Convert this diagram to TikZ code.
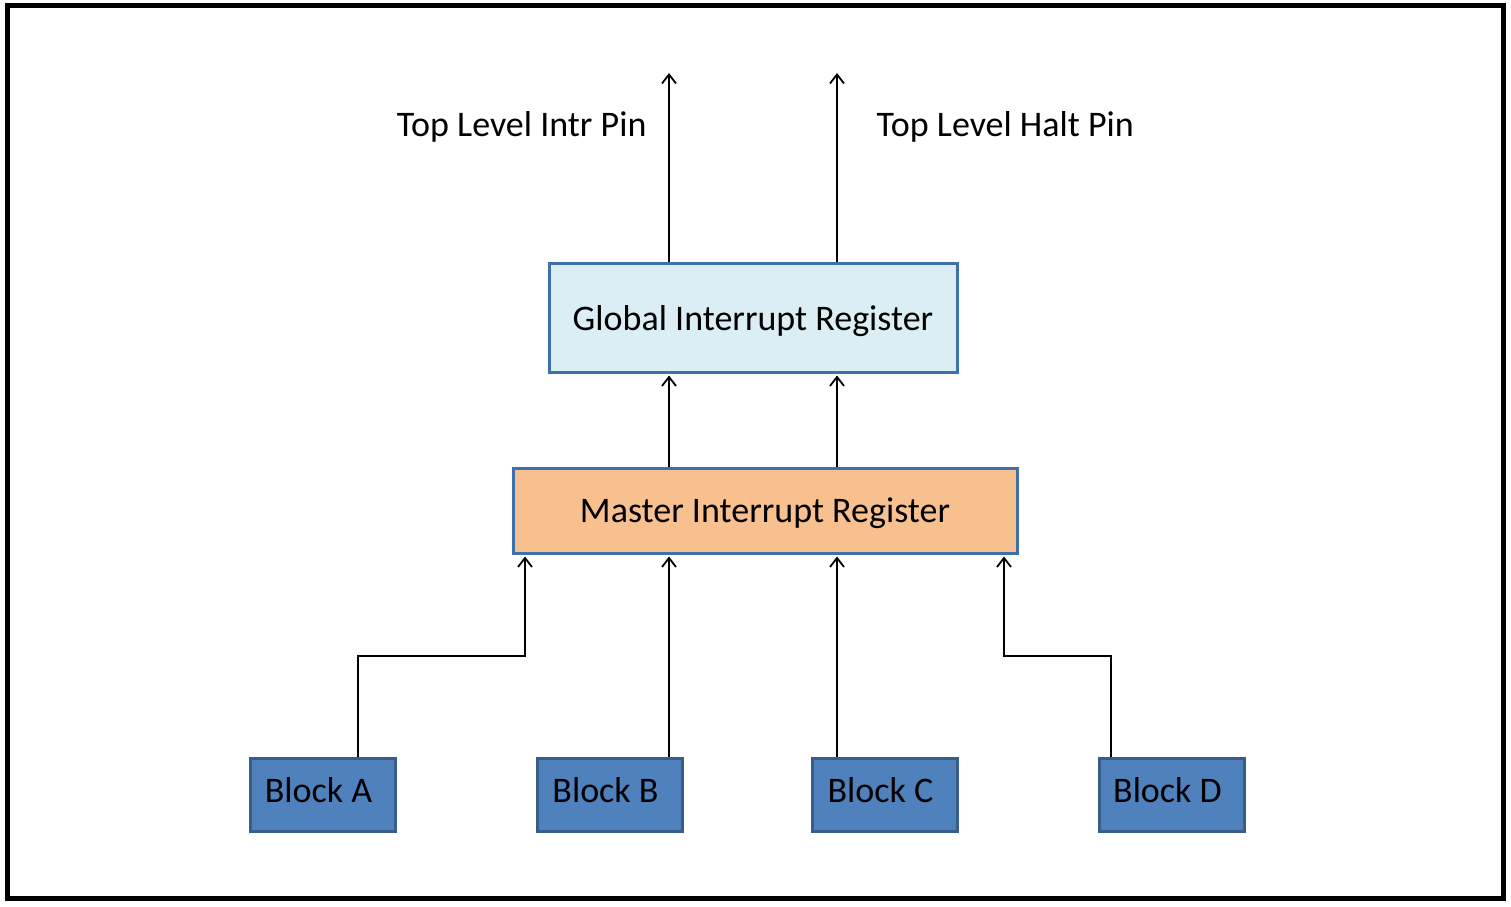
\documentclass[tikz,border=0pt]{standalone}
\usepackage{fontspec}
\setmainfont{Carlito}
\usetikzlibrary{arrows.meta, positioning, calc}

\definecolor{globfill}{HTML}{DBEEF4}
\definecolor{mastfill}{HTML}{F9C08F}
\definecolor{boxline}{HTML}{3E70AA}
\definecolor{blkfill}{HTML}{4F81BD}
\definecolor{blkline}{HTML}{385D8A}

\begin{document}
\begin{tikzpicture}[x=1pt, y=-1pt,
    every node/.style = {font=\fontsize{36}{40}\selectfont, text=black},
    regbox/.style = {draw=boxline, line width=3pt, inner sep=0pt, text depth=0pt},
    blkbox/.style = {draw=blkline, fill=blkfill, line width=3pt,
      minimum width=145pt, minimum height=73pt, inner sep=0pt,
      text depth=10pt, execute at end node={\hspace*{8pt}}},
    pinlbl/.style = {text depth=0pt},
    wire/.style   = {line width=2pt, -{Straight Barb[length=9pt,width=14pt,line width=1.8pt]}},
  ]
  \useasboundingbox (0,0) rectangle (1511,906);
  % frame
  \draw[line width=5pt] (7,5.5) rectangle (1503,898);

  % registers
  \node[regbox, fill=globfill, minimum width=408pt, minimum height=109pt]
    (glob) at (753,317.5) {Global Interrupt Register};
  \node[regbox, fill=mastfill, minimum width=504pt, minimum height=85pt]
    (mast) at (765,510.5) {Master Interrupt Register};

  % blocks
  \node[blkbox] (blkA) at (322.5,794.5) {Block A};
  \node[blkbox] (blkB) at (609.5,794.5) {Block B};
  \node[blkbox] (blkC) at (884.5,794.5) {Block C};
  \node[blkbox] (blkD) at (1171.5,794.5) {Block D};

  % top level pins
  \coordinate (intr) at (669,73);
  \coordinate (halt) at (837,73);
  \node[pinlbl, anchor=east] (intrlbl) at (650,124) {Top Level Intr Pin};
  \node[pinlbl, anchor=west] (haltlbl) at (873,124) {Top Level Halt Pin};

  \draw[wire] (glob.north -| intr) -- (intr);
  \draw[wire] (glob.north -| halt) -- (halt);
  \draw[wire] (mast.north -| intr) -- ([yshift=-2pt]glob.south -| intr);
  \draw[wire] (mast.north -| halt) -- ([yshift=-2pt]glob.south -| halt);

  % block inputs
  \draw[wire] ([xshift=35.5pt]blkA.north) |- (525,656) -- ([yshift=-2pt]mast.south -| 525,0);
  \draw[wire] (blkB.north -| intr) -- ([yshift=-2pt]mast.south -| intr);
  \draw[wire] (blkC.north -| halt) -- ([yshift=-2pt]mast.south -| halt);
  \draw[wire] ([xshift=-60.5pt]blkD.north) |- (1004,656) -- ([yshift=-2pt]mast.south -| 1004,0);
\end{tikzpicture}
\end{document}
